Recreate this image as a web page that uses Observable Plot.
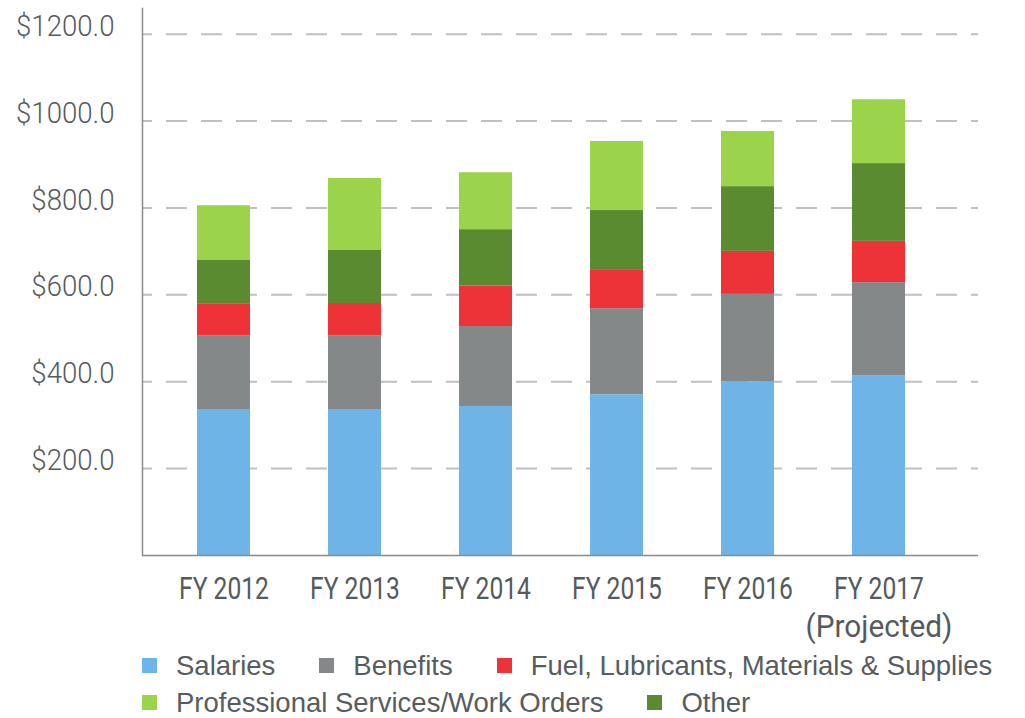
<!DOCTYPE html>
<html><head><meta charset="utf-8">
<script src="https://cdn.jsdelivr.net/npm/d3@7"></script>
<script src="https://cdn.jsdelivr.net/npm/@observablehq/plot@0.6"></script>
<style>
body{margin:0;background:#fff;}
#chart svg{display:block;}
.legend{font-family:"Liberation Sans", Arial, sans-serif; font-size:27.5px; color:#575c60; padding-left:142px; padding-top:2px;}
.row{display:flex; align-items:center; height:37px; white-space:nowrap;}
.item{display:flex; align-items:center; margin-right:44px;}
.sw{width:15px;height:15px;margin-right:19px;flex:none;}
</style></head><body>
<div id="chart"></div><div class="legend" id="legend"></div>
<script>
const years = ["FY 2012","FY 2013","FY 2014","FY 2015","FY 2016","FY 2017"];
const xTickLabels = ["FY 2012","FY 2013","FY 2014","FY 2015","FY 2016","FY 2017\n(Projected)"];
const seriesNames = ["Salaries","Benefits","Fuel, Lubricants, Materials & Supplies","Other","Professional Services/Work Orders"];
const seriesColors = ["#6eb4e6","#858889","#ee3338","#5b8b30","#9bd44a"];
const salaries = [336,336,343,370,400,414];
const benefits = [170,170,184,198,201,214];
const fuel = [72,74,93,90,99,95];
const other = [101,122,130,136,149,179];
const professional = [126,166,131,159,127,147];
const yTicks = [200,400,600,800,1000,1200];
const legendRows = [[0,1,2],[4,3]];

const valuesBySeries = [salaries,benefits,fuel,other,professional];
const data = [];
seriesNames.forEach((s,i)=>years.forEach((y,j)=>data.push({year:y, series:s, value:valuesBySeries[i][j]})));

const plot = Plot.plot({
  width:1025, height:645, marginLeft:142, marginRight:47, marginTop:8, marginBottom:90,
  style:{fontFamily:"Roboto, sans-serif", color:"#555a5e", background:"white"},
  x:{domain:years, paddingInner:0.598, paddingOuter:0.466, align:0.43, label:null},
  y:{domain:[0,1259], label:null},
  color:{domain:seriesNames, range:seriesColors},
  marks:[
    Plot.ruleY(yTicks,{stroke:"#c0c0c0", strokeWidth:2, strokeDasharray:"21,14", strokeDashoffset:11}),
    Plot.barY(data, {x:"year", y:"value", fill:"series", order:seriesNames}),
    Plot.ruleY([0], {stroke:"#8a8a8a", strokeWidth:1.5}),
    Plot.frame({anchor:"left", stroke:"#8a8a8a", strokeWidth:1.5}),
    Plot.axisY({ticks:yTicks, tickSize:0, tickPadding:28, dy:-8, tickFormat:d=>"$"+d.toFixed(1), fontSize:30, fontWeight:300, fill:"#555a5e"}),
    Plot.axisX({tickSize:0, tickPadding:16, fontSize:32, fontWeight:400, lineHeight:1.19, fill:"#555a5e", tickFormat:d=>xTickLabels[years.indexOf(d)]})
  ]
});
document.getElementById("chart").append(plot);

function squeeze(sel, f){
  d3.select(plot).selectAll(sel).each(function(){
    const ts = this.querySelectorAll("tspan");
    const targets = ts.length ? Array.from(ts) : [this];
    targets.forEach(t=>{
      const k = typeof f === "function" ? f(t.textContent) : f;
      const L = t.getComputedTextLength();
      t.setAttribute("textLength", L*k);
      t.setAttribute("lengthAdjust","spacingAndGlyphs");
    });
  });
}
squeeze('g[aria-label="y-axis tick label"] text', 0.92);
squeeze('g[aria-label="x-axis tick label"] text', s => s.startsWith("(") ? 0.93 : 0.77);

const legend = document.getElementById("legend");
legendRows.forEach(r=>{
  const row = document.createElement("div"); row.className="row";
  r.forEach(i=>{
    const it=document.createElement("div"); it.className="item";
    const sw=document.createElement("span"); sw.className="sw"; sw.style.background=seriesColors[i];
    const t=document.createElement("span"); t.textContent=seriesNames[i];
    it.append(sw,t); row.append(it);
  });
  legend.append(row);
});
</script>
</body></html>
